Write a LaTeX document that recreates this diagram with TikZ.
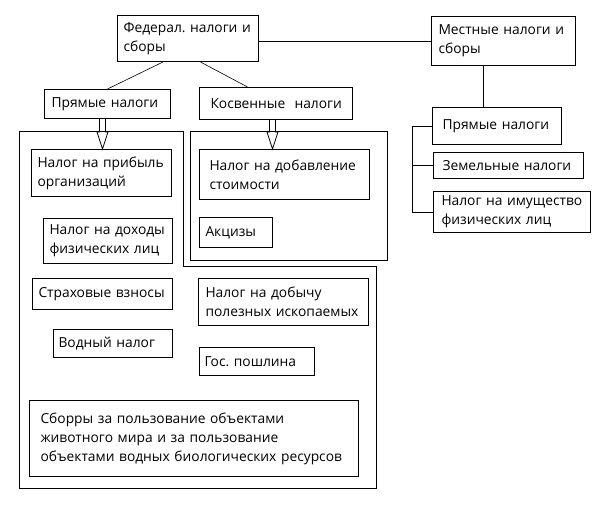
\documentclass[tikz,border=0pt]{standalone}
\usepackage{fontspec}
\setmainfont{Open Sans}
\usepackage{tikz}
\usetikzlibrary{calc}
\frenchspacing

% hollow block arrow: shaft from #1, tip at the height of #2
\newcommand\hollowarrow[2]{%
  \draw[line width=0.8pt] let \p1=#1, \p2=#2 in
    (\x1-3pt,\y1) -- (\x1-3pt,\y2+17pt) -- (\x1-5.5pt,\y2+17pt) -- (\x1,\y2)
    -- (\x1+5.5pt,\y2+17pt) -- (\x1+3pt,\y2+17pt) -- (\x1+3pt,\y1);}

\begin{document}
\begin{tikzpicture}[x=1pt,y=-1pt,font=\fontsize{13.8}{19}\selectfont,line width=1pt]
\tikzstyle{taxbox}=[draw,anchor=north west,align=left,inner ysep=0pt]
\useasboundingbox (0,0) rectangle (605,504);
% federal level
\node[taxbox,text width=129pt,minimum height=46pt,inner xsep=6pt] (fed) at (117,15) {Федерал.~налоги~и\\сборы};
\node[taxbox,text width=112pt,minimum height=29pt,inner xsep=7pt] (pryam) at (44,89) {Прямые~налоги};
\node[taxbox,text width=131pt,minimum height=32pt,inner xsep=11pt] (kosv) at (199,87) {Косвенные~~налоги};
\draw[line width=0.6pt] ([xshift=-25pt]fed.south) -- (pryam.north);
\draw[line width=0.6pt] ([xshift=12.5pt]fed.south) -- ([xshift=-28.5pt]kosv.north);
% groups
\draw (19,131) -- (183,131) -- (183,266) -- (376,266) -- (376,488) -- (19,488) -- cycle;
\draw (190,131) rectangle (387,260);
\node[taxbox,text width=128pt,minimum height=47pt,inner xsep=6pt] (profit) at (31,149) {Налог~на~прибыль\\организаций};
\node[taxbox,text width=117pt,minimum height=45pt,inner xsep=6pt] (ndfl) at (43,218) {Налог~на~доходы\\физических~лиц};
\node[taxbox,text width=150pt,minimum height=50pt,inner xsep=10pt] (nds) at (199,149) {Налог~на~добавление\\стоимости};
\node[taxbox,text width=61pt,minimum height=30pt,inner xsep=6pt] (akciz) at (199,217) {Акцизы};
\node[taxbox,text width=128pt,minimum height=31pt,inner xsep=6pt] (strah) at (32,278) {Страховые~взносы};
\node[taxbox,text width=156pt,minimum height=47pt,inner xsep=7pt] (ndpi) at (198,278) {Налог~на~добычу\\полезных~ископаемых};
\node[taxbox,text width=109pt,minimum height=28pt,inner xsep=5pt] (vodn) at (53,329) {Водный~налог};
\node[taxbox,text width=105pt,minimum height=28pt,inner xsep=5pt] (gos) at (199,347) {Гос.~пошлина};
\node[taxbox,text width=307pt,minimum height=76pt,inner xsep=11pt] (sbor) at (29,400) {Сборры~за~пользование~объектами\\животного~мира~и~за~пользование\\объектами~водных~биологических~ресурсов};
\hollowarrow{([xshift=-5pt]pryam.south)}{(profit.north)}
\hollowarrow{([xshift=-3.5pt]kosv.south)}{(nds.north)}
% local level
\node[taxbox,text width=130pt,minimum height=49pt,inner xsep=7pt] (mest) at (431,16) {Местные~налоги~и\\сборы};
\node[taxbox,text width=109pt,minimum height=37pt,inner xsep=10pt] (pryam2) at (432,107) {Прямые~налоги};
\node[taxbox,text width=132pt,minimum height=26pt,inner xsep=9pt] (zem) at (433,152) {Земельные~налоги};
\node[taxbox,text width=141pt,minimum height=41pt,inner xsep=8pt] (imush) at (433,191) {Налог~на~имущество\\физических~лиц};
\draw (mest.west -| fed.east) -- (mest.west);
\draw ([xshift=-20pt]mest.south) -- ([xshift=-20pt]mest.south |- pryam2.north);
\coordinate (brk) at ([xshift=-20pt]pryam2.west);
\draw (pryam2.west) -- (brk) |- (imush.west);
\draw (zem.west) -- (zem.west -| brk);
\end{tikzpicture}
\end{document}
